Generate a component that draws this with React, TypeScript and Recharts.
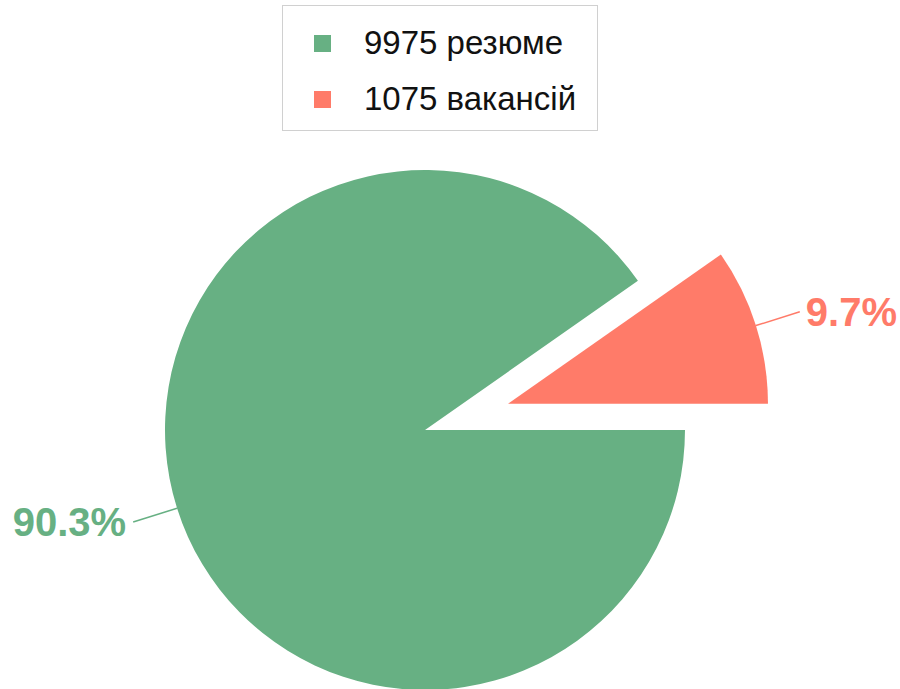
import React from "react";
import { PieChart, Pie, Cell, Legend } from "recharts";

// order: вакансії first so the slice starts at 3 o'clock and the exploded piece sits up-right
const labels = ["вакансій", "резюме"];
const counts = [1075, 9975];
const COLORS = ["#ff7b69", "#67b083"];

const data = labels.map((name, i) => ({ name, value: counts[i] }));

// chart margin (5px) is added by recharts, so these are shifted back
const CX = 420;
const CY = 425;
const R = 260;
const EXPLODE = 87;

const total = counts.reduce((a, b) => a + b, 0);
const midRed = ((counts[0] / total) * 360) / 2;
const DX = EXPLODE * Math.cos((midRed * Math.PI) / 180);
const DY = -EXPLODE * Math.sin((midRed * Math.PI) / 180);

const FONT = "'Liberation Sans', Arial, sans-serif";

const makeLabel = (show: number) => (props: any) => {
  const { cx, cy, midAngle, outerRadius, percent, index } = props;
  if (index !== show) return null;
  const rad = (-midAngle * Math.PI) / 180;
  const x1 = cx + outerRadius * Math.cos(rad);
  const y1 = cy + outerRadius * Math.sin(rad);
  const x2 = cx + (outerRadius + 46) * Math.cos(rad);
  const y2 = cy + (outerRadius + 46) * Math.sin(rad);
  const right = Math.cos(rad) >= 0;
  const color = COLORS[index];
  return (
    <g>
      <line x1={x1} y1={y1} x2={x2} y2={y2} stroke={color} strokeWidth={1.5} />
      <text
        x={x2 + (right ? 6 : -7)}
        y={y2}
        fill={color}
        textAnchor={right ? "start" : "end"}
        dominantBaseline="central"
        fontSize={40}
        fontWeight="bold"
        fontFamily={FONT}
      >
        {`${(percent * 100).toFixed(1)}%`}
      </text>
    </g>
  );
};

const LegendBox = () => {
  // legend lists резюме first
  const order = [1, 0];
  return (
    <div
      style={{
        border: "1px solid #d0d0d0",
        width: 316,
        height: 126,
        boxSizing: "border-box",
        paddingTop: 9,
        fontFamily: FONT,
        fontSize: 33,
        color: "#111",
        background: "#fff",
      }}
    >
      {order.map((i) => (
        <div
          key={labels[i]}
          style={{ display: "flex", alignItems: "center", height: 56 }}
        >
          <span
            style={{
              display: "inline-block",
              width: 17,
              height: 17,
              marginLeft: 31,
              marginRight: 33,
              background: COLORS[i],
            }}
          />
          <span>{`${counts[i]} ${labels[i]}`}</span>
        </div>
      ))}
    </div>
  );
};

export default function App() {
  return (
    <div style={{ position: "absolute", left: 0, top: 0, background: "#fff" }}>
      <PieChart width={900} height={689}>
        <Pie
          data={data}
          dataKey="value"
          cx={CX}
          cy={CY}
          outerRadius={R}
          startAngle={0}
          endAngle={360}
          stroke="none"
          labelLine={false}
          label={makeLabel(1)}
          isAnimationActive={false}
        >
          {data.map((d, i) => (
            <Cell key={d.name} fill={i === 1 ? COLORS[1] : "transparent"} />
          ))}
        </Pie>
        <Pie
          data={data}
          dataKey="value"
          cx={CX + DX}
          cy={CY + DY}
          outerRadius={R}
          startAngle={0}
          endAngle={360}
          stroke="none"
          labelLine={false}
          label={makeLabel(0)}
          isAnimationActive={false}
        >
          {data.map((d, i) => (
            <Cell key={d.name} fill={i === 0 ? COLORS[0] : "transparent"} />
          ))}
        </Pie>
        <Legend
          content={() => <LegendBox />}
          wrapperStyle={{ position: "absolute", left: 282, top: 5, width: 316, height: 126 }}
        />
      </PieChart>
    </div>
  );
}
